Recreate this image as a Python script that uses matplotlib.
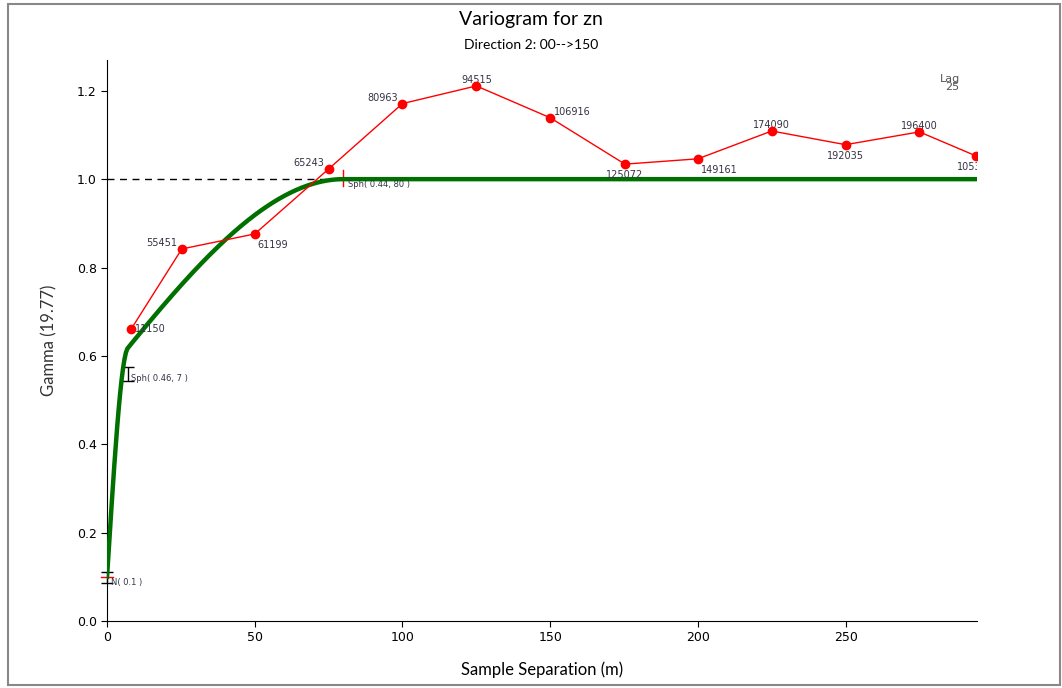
import numpy as np
import matplotlib.pyplot as plt
from matplotlib.patches import Rectangle

# experimental variogram (lag distance, gamma, pair count)
lag_x = [8.1, 25.3, 50, 75, 100, 125, 150, 175.3, 200, 225, 250, 275, 294]
gamma = [0.660, 0.842, 0.876, 1.023, 1.171, 1.211, 1.139, 1.034, 1.046, 1.109, 1.078, 1.107, 1.053]
pairs = ['11150', '55451', '61199', '65243', '80963', '94515', '106916',
         '125072', '149161', '174090', '192035', '196400', '105382']
# label offsets in points (dx, dy, ha)
label_pos = [(3, 0, 'left'), (-3, 4, 'right'), (2, -8, 'left'), (-3, 4, 'right'),
             (-3, 4, 'right'), (0, 4, 'center'), (3, 4, 'left'), (0, -8, 'center'),
             (2, -8, 'left'), (0, 4, 'center'), (0, -8, 'center'), (0, 4, 'center'),
             (0, -8, 'center')]

# model: nugget + two spherical structures
nugget = 0.1
sph1_c, sph1_a = 0.46, 7
sph2_c, sph2_a = 0.44, 80


def spherical(h, c, a):
    r = np.minimum(h / a, 1.0)
    return c * (1.5 * r - 0.5 * r ** 3)


h = np.linspace(0, 294.5, 600)
model = nugget + spherical(h, sph1_c, sph1_a) + spherical(h, sph2_c, sph2_a)
sill = nugget + sph1_c + sph2_c

fig = plt.figure(figsize=(10.62, 6.88), dpi=100)
ax = fig.add_axes([0.1008, 0.0974, 0.8192, 0.8156])

ax.plot([0, sph2_a], [sill, sill], color='black', lw=1, ls=(0, (5, 4)))
ax.plot(h, model, color='#007000', lw=3.2, zorder=3)
ax.plot(lag_x, gamma, color='red', lw=1, marker='o', ms=6, zorder=4, clip_on=True)

txt_col = '#333344'
for x, y, lab, (dx, dy, ha) in zip(lag_x, gamma, pairs, label_pos):
    ax.annotate(lab, (x, y), xytext=(dx, dy), textcoords='offset points',
                ha=ha, va='center', fontsize=7, color=txt_col, annotation_clip=False,
                clip_on=True)

# structure markers
ax.plot([-2, 2], [nugget, nugget], color='red', lw=1, clip_on=False)
ax.errorbar([0], [0.1], yerr=[[0.015], [0.012]], color='black', lw=1, capsize=4, clip_on=False)
ax.text(1.4, 0.086, 'N( 0.1 )', fontsize=6, color=txt_col, va='center')
ax.errorbar([sph1_a], [0.559], yerr=0.015, color='black', lw=1, capsize=4)
ax.text(8.1, 0.549, 'Sph( 0.46, 7 )', fontsize=6, color=txt_col, va='center')
ax.plot([sph2_a, sph2_a], [0.985, 1.02], color='red', lw=1)
ax.text(81.4, 0.987, 'Sph( 0.44, 80 )', fontsize=6, color=txt_col, va='center')

ax.text(0.98, 0.975, 'Lag\n25', transform=ax.transAxes, ha='right', va='top',
        fontsize=8, color='#555555', linespacing=0.8)

ax.set_xlim(0, 294.5)
ax.set_ylim(0, 1.27)
ax.set_xticks([0, 50, 100, 150, 200, 250])
ax.set_yticks([0.0, 0.2, 0.4, 0.6, 0.8, 1.0, 1.2])
ax.yaxis.set_major_formatter(plt.FormatStrFormatter('%.1f'))
ax.tick_params(labelsize=9, length=4)
for s in ['top', 'right']:
    ax.spines[s].set_visible(False)

ax.set_xlabel('Sample Separation (m)', fontsize=12, family='Lato', labelpad=12)
ax.set_ylabel('Gamma (19.77)', fontsize=12, family='Lato', labelpad=14, color='#333333')

fig.text(0.5, 0.971, 'Variogram for zn', ha='center', va='center', fontsize=14, family='Lato')
fig.text(0.5, 0.934, 'Direction 2: 00-->150', ha='center', va='center', fontsize=10, family='Lato')

fig.patches.append(Rectangle((0.008, 0.004), 0.99, 0.99, transform=fig.transFigure,
                             fill=False, edgecolor='#888888', lw=1.5))

fig.savefig('out.png', dpi=100)
